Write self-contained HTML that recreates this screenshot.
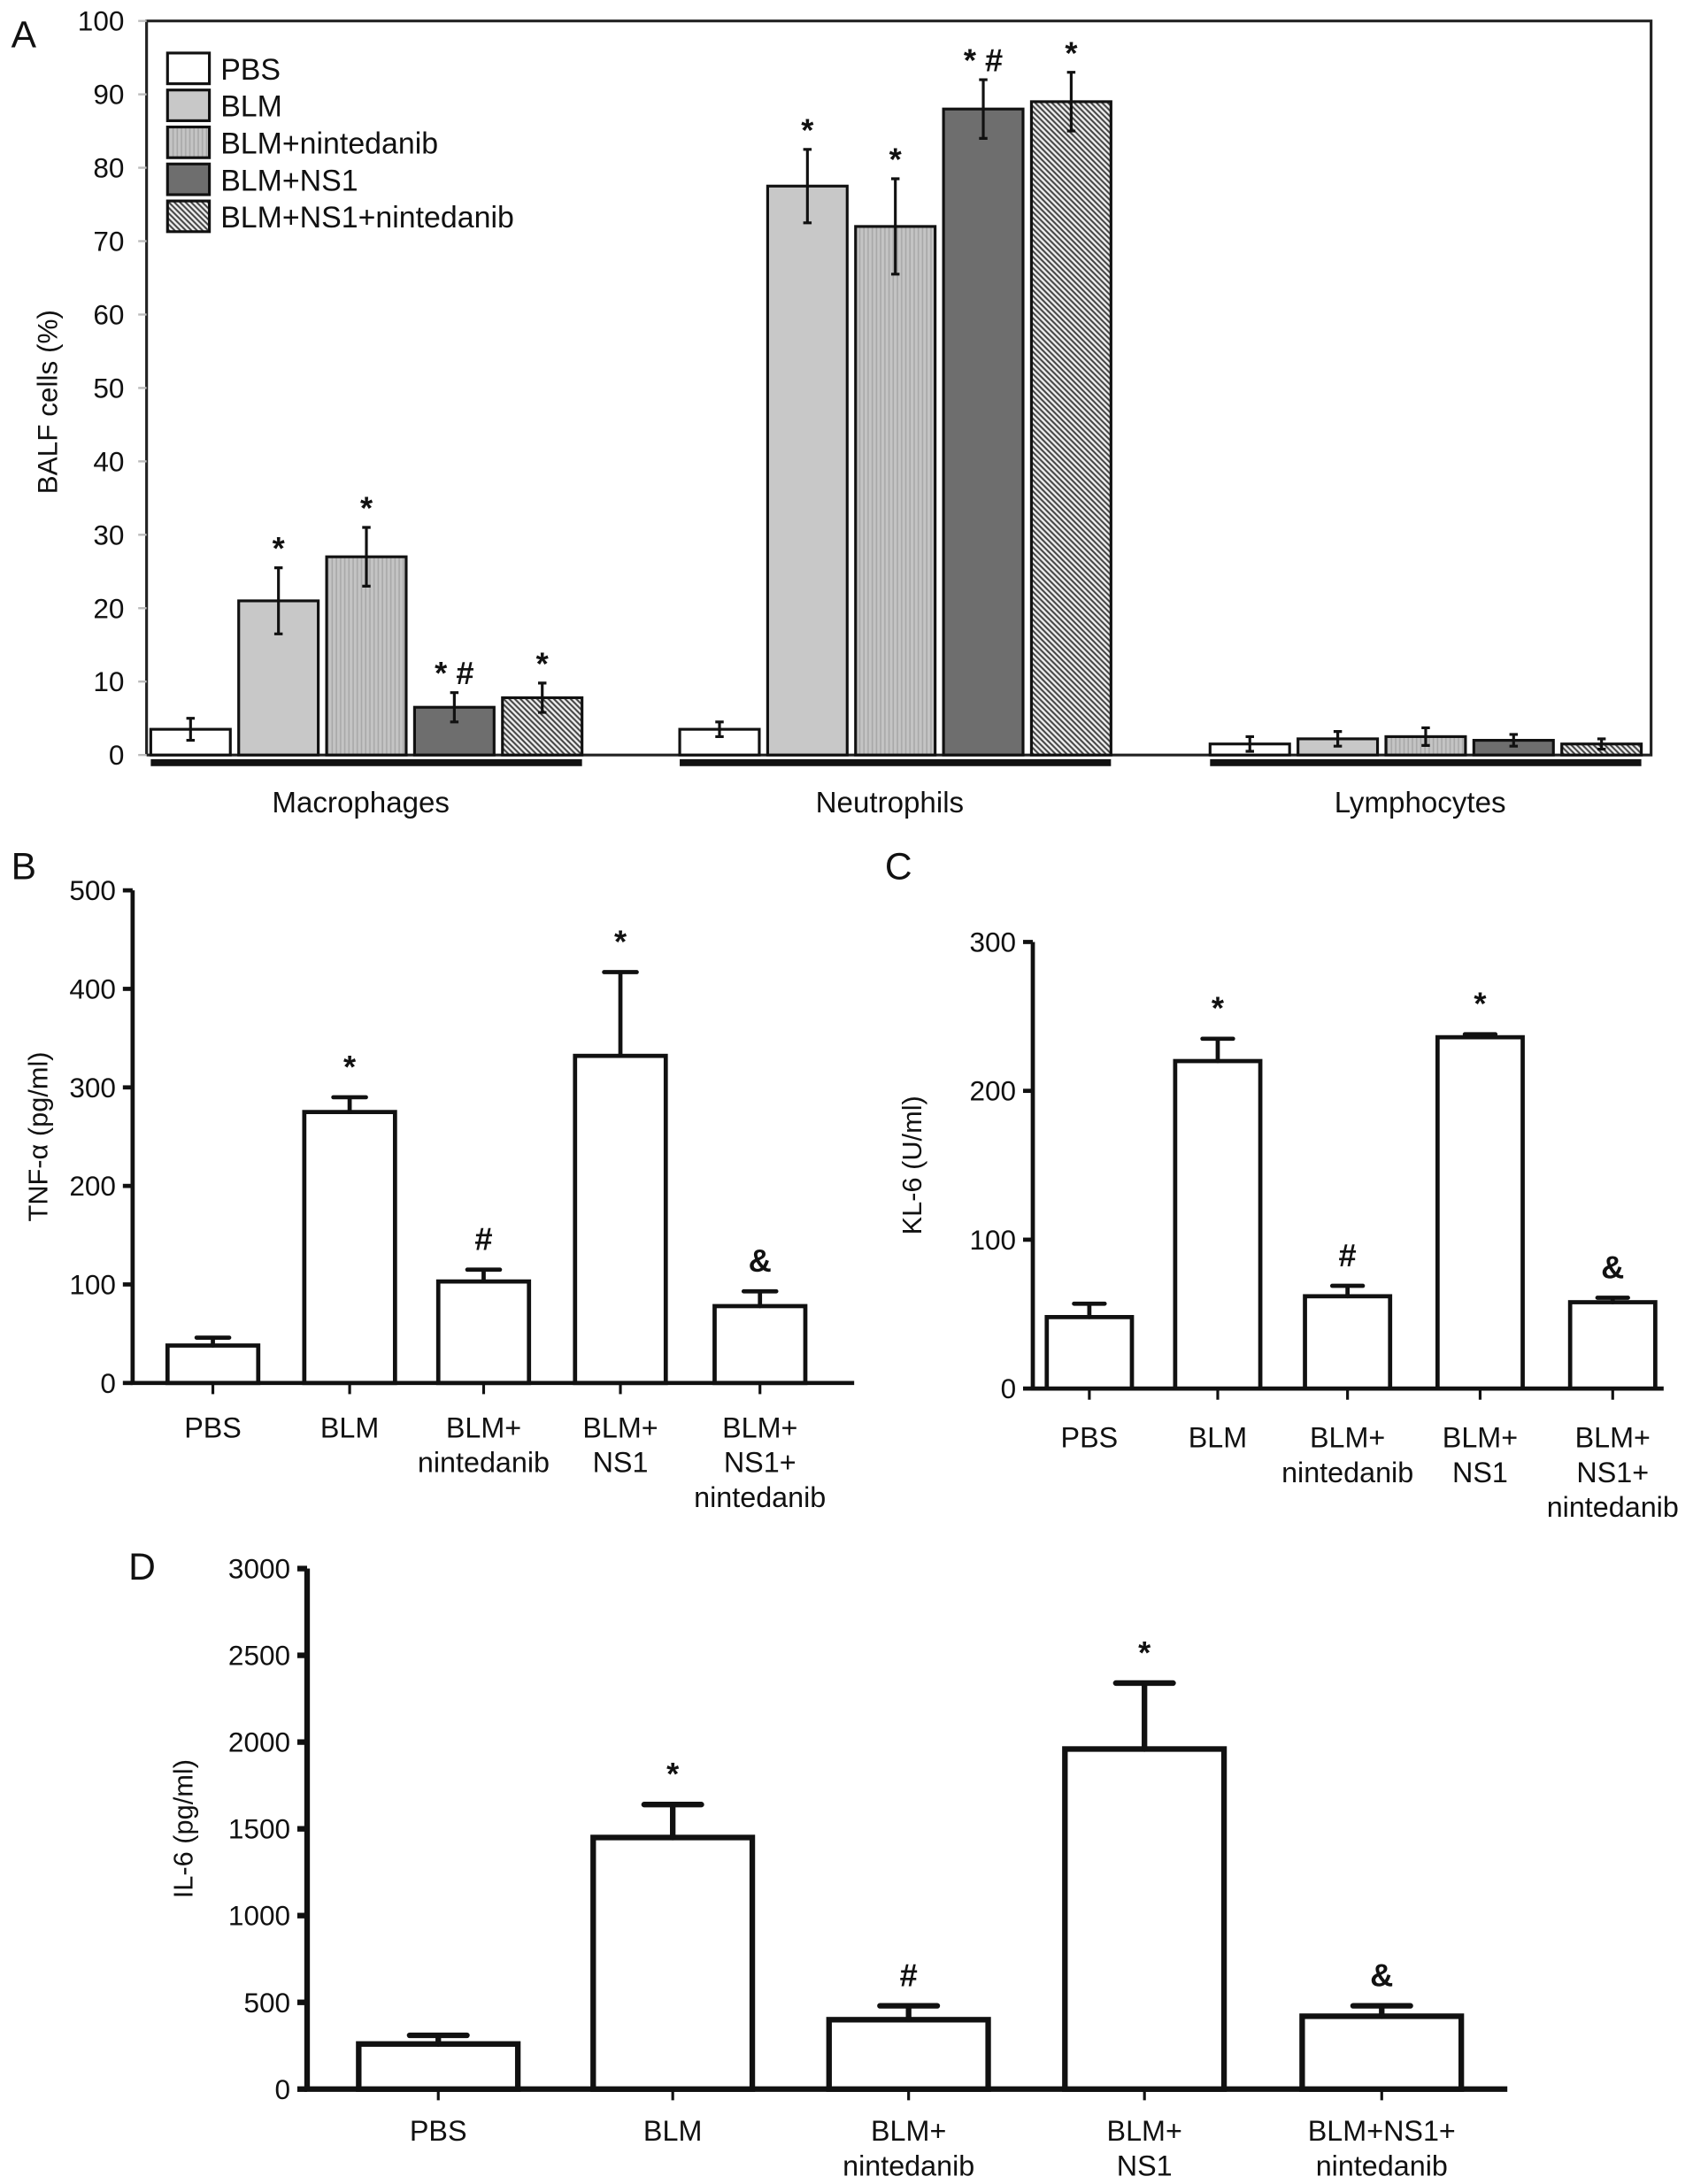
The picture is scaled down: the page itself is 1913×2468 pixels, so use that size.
<!DOCTYPE html>
<html><head><meta charset="utf-8"><style>
html,body{margin:0;padding:0;background:#fff}
svg{display:block}
text{font-family:"Liberation Sans",sans-serif;fill:#111}
</style></head><body>
<svg id="fig" width="1913" height="2468" viewBox="0 0 1213 1565" xmlns="http://www.w3.org/2000/svg">
<defs>
<pattern id="vlines" width="3" height="3" patternUnits="userSpaceOnUse"><rect width="3" height="3" fill="#c4c4c4"/><line x1="1" y1="0" x2="1" y2="3" stroke="#a8a8a8" stroke-width="1"/></pattern>
<pattern id="diag" width="4" height="4" patternUnits="userSpaceOnUse"><rect width="4" height="4" fill="#eee"/><path d="M-1,-1 L5,5 M-1,3 L1,5 M3,-1 L5,1" stroke="#444" stroke-width="1.3"/></pattern>
</defs>
<g id="gA"></g>
<g id="gB"></g>
<g id="gC"></g>
<g id="gD"></g>
</svg>
<script>
// Panel A data
const aGroups = ["Macrophages","Neutrophils","Lymphocytes"];
const aSeries = ["PBS","BLM","BLM+nintedanib","BLM+NS1","BLM+NS1+nintedanib"];
const aMacro = [3.5,21,27,6.5,7.8];
const aMacroErr = [1.5,4.5,4,2,2];
const aNeutro = [3.5,77.5,72,88,89];
const aNeutroErr = [1,5,6.5,4,4];
const aLympho = [1.5,2.2,2.5,2,1.5];
const aLymphoErr = [1,1,1.2,0.8,0.7];
const aMarksMacro = ["","*","*","* #","*"];
const aMarksNeutro = ["","*","*","* #","*"];
const aTicks = [0,10,20,30,40,50,60,70,80,90,100];
// Panel B
const bCats = [["PBS"],["BLM"],["BLM+","nintedanib"],["BLM+","NS1"],["BLM+","NS1+","nintedanib"]];
const bVals = [38,275,103,332,78];
const bErr = [8,15,12,85,15];
const bMarks = ["","*","#","*","&"];
const bTicks = [0,100,200,300,400,500];
// Panel C
const cVals = [48,220,62,236,58];
const cErr = [9,15,7,2,3];
const cMarks = ["","*","#","*","&"];
const cTicks = [0,100,200,300];
// Panel D
const dCats = [["PBS"],["BLM"],["BLM+","nintedanib"],["BLM+","NS1"],["BLM+NS1+","nintedanib"]];
const dVals = [260,1450,400,1960,420];
const dErr = [50,190,80,380,60];
const dMarks = ["","*","#","*","&"];
const dTicks = [0,500,1000,1500,2000,2500,3000];

const NS="http://www.w3.org/2000/svg";
function mk(parent,tag,attrs,txt){const e=document.createElementNS(NS,tag);for(const k in attrs)e.setAttribute(k,attrs[k]);if(txt!==undefined)e.textContent=txt;parent.appendChild(e);return e;}

// ---------- Panel A ----------
(function(){
const g=document.getElementById('gA');
const y0=541,y1=15,vmax=100;
const y=v=>y0-(y0-y1)*v/vmax;
const fills=["#fff","#c8c8c8","url(#vlines)","#6e6e6e","url(#diag)"];
let t=mk(g,'text',{x:8,y:34,'font-size':27});t.textContent='A';


let fr=mk(g,'path',{d:`M105,${y0} L105,15 L1183,15 L1183,${y0} L105,${y0}`,fill:'none',stroke:'#222','stroke-width':2});


aTicks.forEach(v=>{
 const l=mk(g,'line',{x1:99,x2:105,y1:y(v),y2:y(v),stroke:'#bbb','stroke-width':1.5});
 
 
 const tt=mk(g,'text',{x:89,y:y(v)+7,'font-size':20,'text-anchor':'end'},v);
 
 
});
const yl=mk(g,'text',{transform:'translate(41,288) rotate(-90)','font-size':20,'text-anchor':'middle'},'BALF cells (%)');


const groupStart=[108,487,867], step=63, bw=57;
const data=[aMacro,aNeutro,aLympho], errs=[aMacroErr,aNeutroErr,aLymphoErr], marks=[aMarksMacro,aMarksNeutro,null];
aGroups.forEach((gn,gi)=>{
 const gx=groupStart[gi];
 data[gi].forEach((v,i)=>{
  const x=gx+i*step;
  const r=mk(g,'rect',{x:x,y:y(v),width:bw,height:y0-y(v),fill:fills[i],stroke:'#111','stroke-width':2});
  
  
  const cx=x+bw/2, e=errs[gi][i];
  const eb=mk(g,'path',{d:`M${cx},${y(v-e)} L${cx},${y(v+e)} M${cx-3},${y(v+e)} L${cx+3},${y(v+e)} M${cx-3},${y(v-e)} L${cx+3},${y(v-e)}`,stroke:'#111','stroke-width':2,fill:'none'});
  
  
  if(marks[gi]&&marks[gi][i]){
   const m=mk(g,'text',{x:cx,y:y(v+e)-6,'font-size':23,'font-weight':'bold','text-anchor':'middle'},marks[gi][i]);
   
   
  }
 });
 const ul=mk(g,'rect',{x:gx,y:544,width:step*4+bw,height:5,fill:'#111'});
 
 
 const gl=mk(g,'text',{x:gx+(step*4+bw)/2-4,y:582,'font-size':21,'text-anchor':'middle'},gn);
 
 
});
aSeries.forEach((s,i)=>{
 const ly=38+i*26.5;
 const r=mk(g,'rect',{x:120,y:ly,width:30,height:22,fill:fills[i],stroke:'#111','stroke-width':2});
 
 
 const lt=mk(g,'text',{x:158,y:ly+19,'font-size':21.5},s);
 
 
});
})();

// ---------- generic white bar panel ----------
function panel(gid,opt){
 const g=document.getElementById(gid);
 const y=v=>opt.y0-(opt.y0-opt.y1)*v/opt.vmax;
 const lab=mk(g,'text',{x:opt.lx,y:opt.ly,'font-size':27},opt.label);
 
 
 const ax=mk(g,'path',{d:`M${opt.ax},${opt.y1} L${opt.ax},${opt.y0} L${opt.xend},${opt.y0}`,fill:'none',stroke:'#111','stroke-width':opt.sw});
 
 
 opt.ticks.forEach(v=>{
  const l=mk(g,'line',{x1:opt.ax-7,x2:opt.ax,y1:y(v),y2:y(v),stroke:'#111','stroke-width':opt.sw});
  
  
  const tt=mk(g,'text',{x:opt.ax-12,y:y(v)+7,'font-size':20,'text-anchor':'end'},v);
  
  
 });
 const yl=mk(g,'text',{transform:`translate(${opt.tx},${(opt.y0+opt.y1)/2}) rotate(-90)`,'font-size':19.5,'text-anchor':'middle'},opt.title);
 
 
 opt.vals.forEach((v,i)=>{
  const x=opt.bx[i], bw=opt.bw, cx=x+bw/2, e=opt.err[i];
  const r=mk(g,'rect',{x:x,y:y(v),width:bw,height:opt.y0-y(v),fill:'#fff',stroke:'#111','stroke-width':opt.sw});
  
  
  const eb=mk(g,'path',{d:`M${cx},${y(v)} L${cx},${y(v+e)} M${cx-bw*0.18},${y(v+e)} L${cx+bw*0.18},${y(v+e)}`,stroke:'#111','stroke-width':opt.sw,'stroke-linecap':'round',fill:'none'});
  
  
  const tk=mk(g,'line',{x1:cx,x2:cx,y1:opt.y0,y2:opt.y0+8,stroke:'#111','stroke-width':2});
  
  
  if(opt.marks[i]){
   const m=mk(g,'text',{x:cx,y:y(v+e)-14,'font-size':23,'font-weight':'bold','text-anchor':'middle','font-family':'Liberation Serif'},opt.marks[i]);
   
   
  }
  opt.cats[i].forEach((line,j)=>{
   const ct=mk(g,'text',{x:cx,y:opt.cy+j*25,'font-size':20.5,'text-anchor':'middle'},line);
   
   
  });
 });
}
panel('gB',{label:'B',lx:8,ly:630,y0:991,y1:638,vmax:500,ax:95,xend:612,sw:3,ticks:bTicks,tx:34,title:'TNF-α (pg/ml)',
 vals:bVals,err:bErr,marks:bMarks,cats:bCats,bx:[120,218,314,412,512],bw:65,cy:1030});
panel('gC',{label:'C',lx:634,ly:630,y0:995,y1:675,vmax:300,ax:740,xend:1192,sw:3,ticks:cTicks,tx:660,title:'KL-6 (U/ml)',
 vals:cVals,err:cErr,marks:cMarks,cats:bCats,bx:[750,842,935,1030,1125],bw:61,cy:1037});
panel('gD',{label:'D',lx:92,ly:1132,y0:1497,y1:1124,vmax:3000,ax:220,xend:1080,sw:4,ticks:dTicks,tx:138,title:'IL-6 (pg/ml)',
 vals:dVals,err:dErr,marks:dMarks,cats:dCats,bx:[257,425,594,763,933],bw:114,cy:1534});
</script>
</body></html>
